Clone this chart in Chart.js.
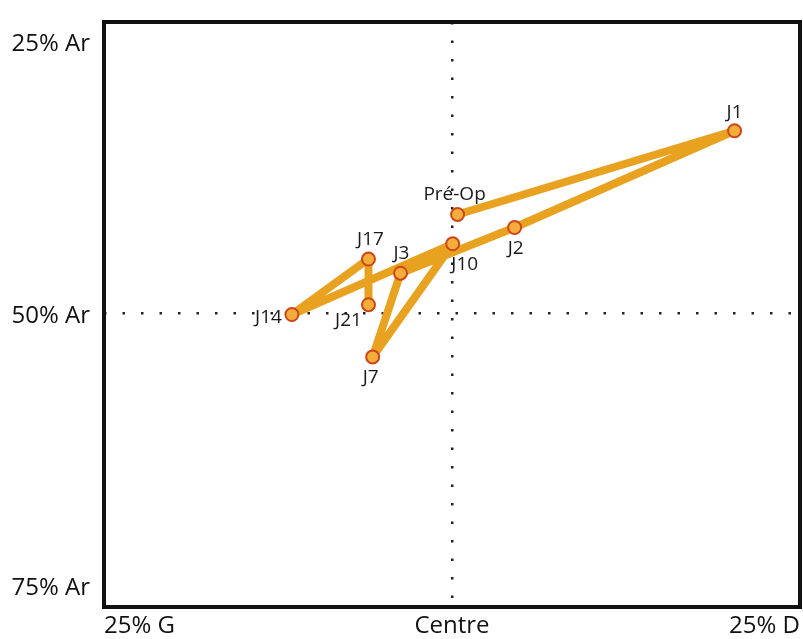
<!DOCTYPE html>
<html>
<head>
<meta charset="utf-8">
<script src="https://cdn.jsdelivr.net/npm/chart.js@4/dist/chart.umd.min.js"></script>
<style>
  html, body { margin: 0; padding: 0; background: #fff; }
  #wrap { width: 803px; height: 639px; position: relative; }
</style>
</head>
<body>
<div id="wrap"><canvas id="myChart"></canvas></div>
<script>
// visites, dans l'ordre chronologique
const visites = ["Pré-Op", "J1", "J2", "J3", "J7", "J10", "J14", "J17", "J21"];
// déplacement latéral (négatif = gauche, positif = droite), en %
const lateral = [0.4, 20.3, 4.5, -3.7, -5.7, 0.05, -11.5, -6.0, -6.0];
// déplacement arrière, en %
const arriere = [40.9, 33.2, 42.1, 46.3, 54.0, 43.6, 50.1, 45.0, 49.2];

const xTicks = [-25, 0, 25];
const xTickLabels = ["25% G", "Centre", "25% D"];
const yTicks = [25, 50, 75];
const yTickLabels = ["25% Ar", "50% Ar", "75% Ar"];

const points = visites.map(function (v, i) {
  return { x: lateral[i], y: arriere[i] };
});

// où poser chaque étiquette par rapport à son point
const placement = {
  "Pré-Op": [-3, -20, "center"],
  "J1": [0, -18, "center"],
  "J2": [1, 21, "center"],
  "J3": [1, -20, "center"],
  "J7": [-2, 21, "center"],
  "J10": [12, 21, "center"],
  "J14": [-10, 3, "right"],
  "J17": [2, -19, "center"],
  "J21": [-20, 16, "center"]
};

const etiquettes = {
  id: "etiquettes",
  afterDatasetsDraw(chart) {
    const ctx = chart.ctx;
    const meta = chart.getDatasetMeta(0);
    ctx.save();
    ctx.font = "19px 'Open Sans'";
    ctx.fillStyle = "#1a1a1a";
    ctx.textBaseline = "middle";
    meta.data.forEach(function (pt, i) {
      const p = placement[visites[i]];
      ctx.textAlign = p[2];
      ctx.fillText(visites[i], pt.x + p[0], pt.y + p[1]);
    });
    ctx.restore();
  }
};

const cadre = {
  id: "cadre",
  afterDraw(chart) {
    const a = chart.chartArea;
    const ctx = chart.ctx;
    ctx.save();
    ctx.strokeStyle = "#111";
    ctx.lineWidth = 4;
    ctx.strokeRect(a.left, a.top, a.right - a.left, a.bottom - a.top);
    ctx.restore();
  }
};

const config = {
  type: "line",
  data: {
    datasets: [
      {
        label: "Trajet",
        data: points,
        borderColor: "#e8a21f",
        borderWidth: 8,
        borderJoinStyle: "round",
        tension: 0,
        fill: false,
        pointRadius: 6.5,
        pointHoverRadius: 6.5,
        pointBackgroundColor: "#f2ad3a",
        pointBorderColor: "#cf4519",
        pointBorderWidth: 2
      }
    ]
  },
  options: {
    responsive: true,
    maintainAspectRatio: false,
    animation: false,
    layout: { autoPadding: false, padding: { top: 22, right: 3, left: 0, bottom: 0 } },
    plugins: {
      legend: { display: false },
      tooltip: { enabled: false }
    },
    scales: {
      x: {
        type: "linear",
        min: -25,
        max: 25,
        afterBuildTicks(scale) {
          scale.ticks = xTicks.map(function (v) { return { value: v }; });
        },
        afterFit(scale) {
          scale.height = 32;
          scale.paddingLeft = 0;
          scale.paddingRight = 0;
        },
        ticks: {
          align: "inner",
          padding: 5,
          color: "#111",
          font: { family: "'Open Sans'", size: 24 },
          callback: function (value) {
            return xTickLabels[xTicks.indexOf(value)];
          }
        },
        grid: {
          drawTicks: false,
          lineWidth: 2.5,
          color: function (c) {
            return c.tick && c.tick.value === 0 ? "#222" : "rgba(0,0,0,0)";
          }
        },
        border: { display: false, dash: [2.5, 16] }
      },
      y: {
        type: "linear",
        min: 23.2,
        max: 77.0,
        reverse: true,
        afterBuildTicks(scale) {
          scale.ticks = yTicks.map(function (v) { return { value: v }; });
        },
        afterFit(scale) {
          scale.width = 104;
          scale.paddingTop = 0;
          scale.paddingBottom = 0;
        },
        ticks: {
          padding: 14,
          labelOffset: 3,
          color: "#111",
          font: { family: "'Open Sans'", size: 24 },
          callback: function (value) {
            return yTickLabels[yTicks.indexOf(value)];
          }
        },
        grid: {
          drawTicks: false,
          lineWidth: 2.5,
          color: function (c) {
            return c.tick && c.tick.value === 50 ? "#222" : "rgba(0,0,0,0)";
          }
        },
        border: { display: false, dash: [2.5, 16] }
      }
    }
  },
  plugins: [etiquettes, cadre]
};

new Chart(document.getElementById("myChart"), config);
</script>
</body>
</html>
